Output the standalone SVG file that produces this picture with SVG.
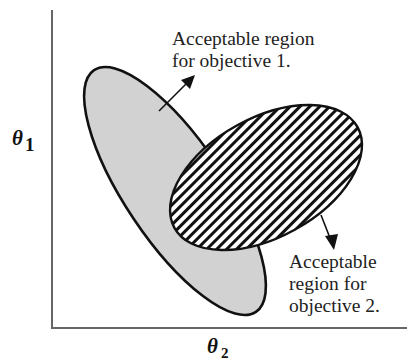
<svg xmlns="http://www.w3.org/2000/svg" width="407" height="363" viewBox="0 0 407 363">
<style>
.lbl{font-family:"Liberation Serif","Times New Roman",serif;font-size:19.5px;fill:#222}
.ax{font-family:"Liberation Serif","Times New Roman",serif;font-weight:bold;fill:#111}
.axis{stroke:#666;stroke-width:2;fill:none}
.arr{stroke:#111;stroke-width:1.6;fill:none}
</style>
<defs>
<pattern id="hatch" patternUnits="userSpaceOnUse" width="7" height="7" patternTransform="rotate(73.8)">
<rect width="7" height="7" fill="#fff"/>
<rect width="3" height="7" fill="#111"/>
</pattern>
</defs>
<rect width="407" height="363" fill="#fff"/>
<g id="axes">
<line class="axis" x1="52" y1="10" x2="52" y2="328"/>
<line class="axis" x1="51" y1="328" x2="407" y2="328"/>
<text class="ax" x="12" y="145" font-size="21"><tspan font-style="italic">θ</tspan></text>
<text class="ax" x="25" y="151" font-size="19">1</text>
<text class="ax" x="207" y="353" font-size="21"><tspan font-style="italic">θ</tspan></text>
<text class="ax" x="221" y="358" font-size="15">2</text>
</g>
<g id="region1">
<ellipse cx="175" cy="191" rx="145.5" ry="49.8" transform="rotate(56.2 175 191)" fill="#d2d2d2" stroke="#111" stroke-width="2.6"/>
</g>
<g id="region2">
<ellipse cx="266" cy="177.5" rx="104.5" ry="59.6" transform="rotate(-28.8 266 177.5)" fill="url(#hatch)" stroke="#111" stroke-width="2.4"/>
</g>
<g id="connectors">
<line class="arr" x1="159" y1="111" x2="190" y2="80"/>
<path d="M195,75 L190,89 L181,80 Z" fill="#111"/>
<line class="arr" x1="321" y1="215" x2="330" y2="238"/>
<path d="M334,250 L325,236 L338,234 Z" fill="#111"/>
</g>
<g id="label1">
<text class="lbl" x="172" y="45">Acceptable region</text>
<text class="lbl" x="172" y="67">for objective 1.</text>
</g>
<g id="label2">
<text class="lbl" x="289" y="268">Acceptable</text>
<text class="lbl" x="289" y="290">region for</text>
<text class="lbl" x="289" y="312">objective 2.</text>
</g>
</svg>
